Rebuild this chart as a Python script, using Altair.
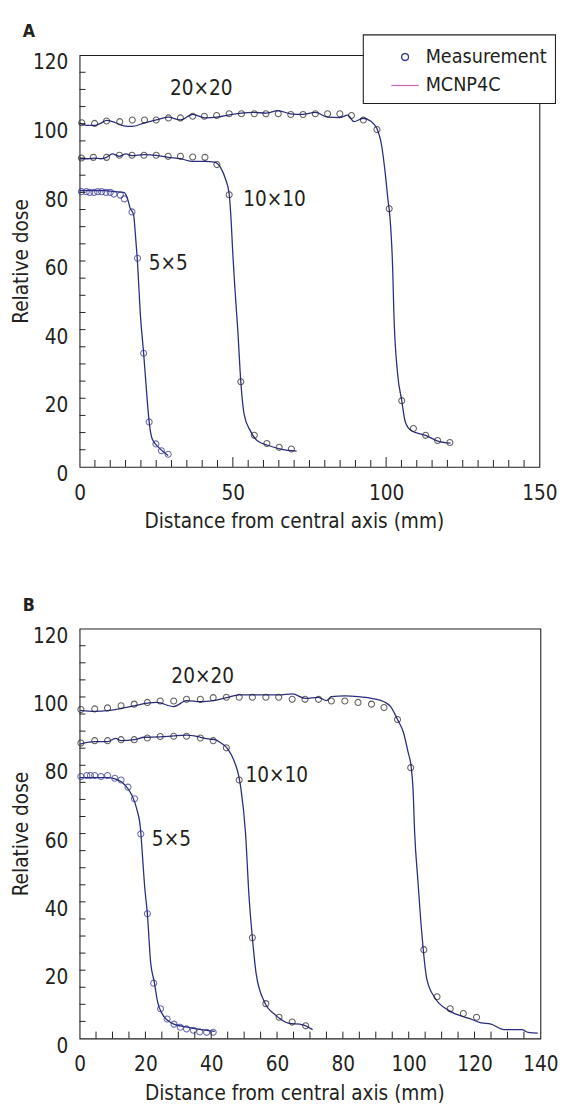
import altair as alt
import pandas as pd

# ---------------- data ----------------
FIELDS = ["5×5", "10×10", "20×20"]

# Panel A -- measurements
a5_mx = [0.6, 2.2, 3.3, 4.7, 5.9, 7.2, 8.6, 10.0, 11.2, 13.3, 14.6, 17.1, 18.9, 20.9, 22.7, 24.9, 26.7, 28.9]
a5_my = [80.2, 80.2, 80.0, 80.0, 80.2, 80.2, 80.0, 80.0, 79.5, 79.2, 78.1, 74.3, 60.8, 33.1, 13.1, 6.7, 4.7, 3.7]
a10_mx = [0.6, 4.5, 8.8, 13.0, 17.1, 21.0, 25.0, 28.9, 32.9, 36.9, 40.9, 44.8, 48.8, 52.6, 57.0, 61.1, 65.1, 69.1]
a10_my = [90.0, 90.2, 90.2, 90.8, 90.8, 90.8, 90.8, 90.5, 90.5, 90.3, 90.2, 88.1, 79.3, 24.8, 9.2, 6.8, 5.7, 5.2]
a20_mx = [0.7, 4.9, 8.8, 13.1, 17.2, 21.2, 25.0, 29.0, 32.9, 36.9, 40.7, 44.7, 48.8, 52.8, 57.0, 60.8,
          64.8, 68.9, 72.9, 76.9, 80.9, 84.9, 88.7, 92.6, 97.0, 101.0, 105.1, 108.9, 112.9, 116.8, 120.8]
a20_my = [100.3, 100.1, 100.8, 100.6, 101.1, 101.1, 101.1, 101.7, 101.7, 102.2, 102.2, 102.4, 102.9, 102.9,
          102.9, 102.9, 102.9, 102.7, 102.7, 102.9, 102.9, 102.9, 102.4, 101.1, 98.3, 75.2, 19.3, 11.2, 9.2, 7.7, 7.1]

# Panel A -- MCNP4C
a5_sx = [0, 8.2, 11.2, 14.4, 15.5, 16.5, 17.6, 18.3, 19.0, 19.8, 20.9, 22.1, 22.7, 23.7, 25.8, 28.9]
a5_sy = [80.5, 80.5, 80.2, 80.0, 78.6, 75.4, 73.5, 66.7, 58.0, 44.8, 33.1, 19.1, 13.1, 8.1, 5.7, 3.3]
a10_sx = [0, 2.8, 4.9, 7.0, 8.8, 10.7, 13.0, 15.1, 17.1, 21.0, 25.0, 28.9, 32.9, 36.9, 40.9, 44.0, 46.0,
          47.6, 48.8, 49.3, 50.0, 50.6, 51.6, 52.6, 53.7, 55.7, 58.0, 61.4, 66.0, 70.8]
a10_sy = [89.8, 89.8, 90.0, 89.8, 90.2, 91.2, 90.5, 91.2, 90.7, 91.0, 90.8, 90.2, 89.8, 89.0, 89.0, 88.8, 87.2,
          83.9, 79.6, 73.9, 62.0, 53.0, 40.0, 24.8, 15.2, 10.5, 7.6, 6.3, 5.1, 4.6]
a20_sx = [0, 2.8, 4.9, 7.0, 8.8, 11.2, 14.4, 17.1, 21.0, 25.0, 28.9, 32.9, 36.9, 40.9, 44.8, 48.8, 52.7, 56.8,
          60.8, 64.8, 68.7, 72.7, 76.9, 80.9, 84.8, 87.5, 89.5, 92.5, 94.9, 97.0, 98.6, 99.7, 100.7, 101.2,
          102.2, 102.5, 103.7, 105.1, 106.2, 108.0, 113.1, 116.6, 121.0]
a20_sy = [100.2, 99.5, 99.5, 100.2, 101.0, 100.5, 99.4, 99.2, 100.2, 101.1, 101.9, 101.1, 102.7, 101.7, 101.9,
          102.6, 103.1, 103.3, 103.1, 103.8, 102.9, 102.7, 103.3, 101.9, 101.8, 102.5, 100.6, 101.6, 100.8, 98.6,
          93.3, 85.7, 77.1, 73.3, 56.0, 45.7, 27.6, 19.3, 13.3, 10.7, 9.1, 7.6, 6.9]

# Panel B -- measurements
b5_mx = [0.4, 2.2, 3.3, 4.6, 6.5, 8.5, 10.7, 12.6, 14.7, 16.7, 18.6, 20.6, 22.5, 24.6, 26.6, 28.7, 30.6,
         32.5, 34.6, 36.5, 38.6, 40.6]
b5_my = [76.7, 77.0, 77.0, 77.0, 76.7, 77.0, 76.2, 75.7, 73.6, 70.2, 59.9, 36.5, 16.2, 8.7, 5.7, 4.2, 3.3,
         2.8, 2.4, 1.9, 1.8, 1.8]
b10_mx = [0.4, 4.6, 8.5, 12.6, 16.6, 20.6, 24.5, 28.6, 32.5, 36.7, 40.6, 44.6, 48.5, 52.5, 56.6, 60.6, 64.6, 68.7]
b10_my = [86.5, 87.2, 87.2, 87.5, 87.5, 88.0, 88.4, 88.5, 88.5, 88.0, 87.2, 85.1, 75.7, 29.5, 10.2, 6.2, 4.8, 3.7]
b20_mx = [0.4, 4.6, 8.5, 12.6, 16.6, 20.6, 24.5, 28.6, 32.5, 36.7, 40.6, 44.6, 48.5, 52.5, 56.6, 60.5,
          64.6, 68.5, 72.6, 76.5, 80.6, 84.6, 88.7, 92.5, 96.6, 100.6, 104.6, 108.6, 112.6, 116.6, 120.6]
b20_my = [96.3, 96.5, 96.8, 97.4, 97.9, 98.4, 98.8, 98.8, 99.3, 99.3, 99.8, 99.9, 99.9, 99.9, 99.9, 99.9,
          99.3, 99.3, 99.3, 98.8, 98.8, 98.4, 97.9, 96.9, 93.4, 79.3, 26.0, 12.2, 8.7, 7.3, 6.2]

# Panel B -- MCNP4C
b5_sx = [0, 8.5, 11.6, 13.7, 15.8, 17.4, 18.5, 19.0, 19.8, 20.6, 21.6, 22.7, 23.7, 25.3, 28.0, 32.7, 36.9, 41.1]
b5_sy = [76.4, 76.4, 75.7, 74.3, 71.4, 67.1, 61.4, 55.0, 44.2, 36.5, 22.2, 16.5, 10.7, 6.9, 4.5, 3.3, 2.6, 2.1]
b10_sx = [0.2, 4.6, 8.5, 10.9, 12.6, 16.6, 19.7, 24.5, 28.6, 32.5, 36.7, 39.1, 41.1, 43.0, 45.0, 46.9, 48.3,
          49.0, 50.4, 51.5, 52.5, 53.6, 56.2, 59.5, 63.4, 67.8, 70.8]
b10_sy = [86.2, 86.9, 86.9, 87.9, 87.2, 87.5, 88.2, 88.3, 88.6, 88.8, 88.2, 87.7, 87.5, 86.5, 84.8, 81.4, 77.1,
          73.3, 60.4, 41.3, 29.5, 19.3, 10.6, 6.9, 4.5, 4.0, 2.6]
b20_sx = [0.2, 4.6, 8.5, 11.9, 16.6, 20.6, 23.5, 28.6, 32.5, 36.7, 40.6, 44.6, 48.5, 52.5, 56.6, 60.5, 64.7,
          68.5, 72.6, 75.0, 76.5, 80.6, 84.6, 88.7, 92.5, 94.5, 96.6, 98.4, 99.8, 100.8, 101.3, 101.8, 102.8,
          103.9, 105.5, 108.1, 112.0, 118.3, 122.0, 125.0, 129.0, 134.3, 136.3, 139.2]
b20_sy = [96.1, 95.8, 96.0, 96.5, 97.4, 98.2, 98.4, 97.2, 98.9, 98.6, 98.9, 99.8, 100.6, 100.6, 100.6, 100.6,
          100.9, 99.6, 99.9, 98.9, 100.1, 100.3, 100.1, 99.6, 98.6, 97.2, 93.4, 89.6, 83.9, 79.1, 73.3, 60.4,
          46.1, 31.7, 17.4, 11.7, 8.3, 5.9, 4.6, 4.2, 2.6, 2.6, 1.8, 1.6]

# Field-size annotations
a_lab_text = ["20×20", "10×10", "5×5"]
a_lab_x = [39.7, 63.6, 28.9]
a_lab_y = [110.0, 77.6, 59.0]
b_lab_text = ["20×20", "10×10", "5×5"]
b_lab_x = [37.4, 59.9, 27.9]
b_lab_y = [105.8, 76.7, 58.0]

# Axis tick values
y_labels = [0, 20, 40, 60, 80, 100, 120]
y_minor = list(range(5, 120, 5))
a_x_labels = [0, 50, 100, 150]
a_x_minor = [v for v in range(5, 150, 5) if v % 50 != 0]
a_x_major = [50, 100]
b_x_labels = [0, 20, 40, 60, 80, 100, 120, 140]
b_x_minor = list(range(5, 140, 5))

LEGEND_KINDS = ["Measurement", "MCNP4C"]

# ---------------- styling ----------------
FONT = "Noto Sans Condensed, DejaVu Sans Condensed, sans-serif"
INK = "#231f20"
NAVY = "#2b2e7f"
CIRCLE_BLUE = "#2e3192"
PINK = "#c96bb8"
CIRCLE_PATH = "M-0.25,0A0.25,0.25 0 1,0 0.25,0A0.25,0.25 0 1,0 -0.25,0Z"
LINE_PATH = "M-1,0L1,0"
TICK_FS = 21
TITLE_FS = 21


def long_df(xs_list, ys_list):
    frames = []
    for f, xs, ys in zip(FIELDS, xs_list, ys_list):
        frames.append(pd.DataFrame({"x": xs, "y": ys, "field": f}))
    return pd.concat(frames, ignore_index=True)


def panel(letter, meas, sims, lab, xmax, xlabels, xminor, xmajor, width, height,
          stroke_range, leg_xy):
    xenc = alt.X("x:Q", scale=alt.Scale(domain=[0, xmax], nice=False, zero=False),
                 axis=alt.Axis(values=xlabels, ticks=False, tickSize=0, domain=False, grid=False,
                               labelFlush=False, labelPadding=16, labelFontSize=TICK_FS,
                               title="Distance from central axis (mm)", titleFontSize=TITLE_FS,
                               titlePadding=8, titleX=width / 2 - 16))
    yenc = alt.Y("y:Q", scale=alt.Scale(domain=[0, 120], nice=False, zero=False),
                 axis=alt.Axis(values=y_labels, ticks=False, tickSize=0, domain=False, grid=False,
                               labelPadding=12, labelFontSize=TICK_FS, labelOffset=8,
                               title="Relative dose", titleFontSize=TITLE_FS, titlePadding=1))

    mdf = long_df(*meas)
    sdf = long_df(*sims)
    ldf = pd.DataFrame({"x": lab[1], "y": lab[2], "label": lab[0]})

    lines = alt.Chart(sdf).mark_line(color=NAVY, strokeWidth=1.3, interpolate="monotone").encode(
        x=xenc, y=yenc, detail="field:N")
    points = alt.Chart(mdf).mark_point(shape="circle", filled=False, size=38, strokeWidth=1.1).encode(
        x=xenc, y=yenc,
        stroke=alt.Stroke("field:N", scale=alt.Scale(domain=FIELDS, range=stroke_range), legend=None))
    labels = alt.Chart(ldf).mark_text(font=FONT, fontSize=21, color=INK, align="center",
                                      baseline="middle").encode(x=xenc, y=yenc, text="label:N")
    yticks = alt.Chart(pd.DataFrame({"y": y_minor})).mark_rule(color=INK, strokeWidth=1).encode(
        y=yenc, x=alt.value(0), x2=alt.value(6))
    xticks = alt.Chart(pd.DataFrame({"x": xminor})).mark_rule(color=INK, strokeWidth=1).encode(
        x=xenc, y=alt.value(height), y2=alt.value(height - 7))
    letter_mark = alt.Chart(pd.DataFrame({"t": [letter]})).mark_text(
        font=FONT, fontSize=18, fontWeight="bold", color=INK, align="left", baseline="alphabetic").encode(
        text="t:N", x=alt.value(-58), y=alt.value(-18))
    layers = [lines, points, labels, yticks, xticks, letter_mark]
    if xmajor:
        xmaj = alt.Chart(pd.DataFrame({"x": xmajor})).mark_rule(color=INK, strokeWidth=1).encode(
            x=xenc, y=alt.value(height), y2=alt.value(height - 10))
        layers.append(xmaj)

    leg = dict(orient="none", legendX=leg_xy[0], legendY=leg_xy[1], title=None)
    legend_layer = alt.Chart(pd.DataFrame({"kind": LEGEND_KINDS})).mark_point(
        opacity=0, size=784, filled=False).encode(
        x=alt.value(0), y=alt.value(0),
        color=alt.Color("kind:N", scale=alt.Scale(domain=LEGEND_KINDS, range=[CIRCLE_BLUE, PINK]),
                        legend=alt.Legend(**leg)),
        shape=alt.Shape("kind:N", scale=alt.Scale(domain=LEGEND_KINDS, range=[CIRCLE_PATH, LINE_PATH]),
                        legend=alt.Legend(**leg)))
    layers.append(legend_layer)

    return alt.layer(*layers).properties(width=width, height=height)


panel_a = panel("A",
                ([a5_mx, a10_mx, a20_mx], [a5_my, a10_my, a20_my]),
                ([a5_sx, a10_sx, a20_sx], [a5_sy, a10_sy, a20_sy]),
                (a_lab_text, a_lab_x, a_lab_y),
                150, a_x_labels, a_x_minor, a_x_major, 469, 420,
                [CIRCLE_BLUE, INK, INK], (289, -21))
panel_b = panel("B",
                ([b5_mx, b10_mx, b20_mx], [b5_my, b10_my, b20_my]),
                ([b5_sx, b10_sx, b20_sx], [b5_sy, b10_sy, b20_sy]),
                (b_lab_text, b_lab_x, b_lab_y),
                140, b_x_labels, b_x_minor, [], 470, 418,
                [INK, INK, INK], (290, -24))

chart = alt.vconcat(panel_a, panel_b, spacing=65).properties(
    padding={"left": 2, "top": 4, "right": 0, "bottom": 0},
    background="white",
).configure_view(
    stroke=INK, strokeWidth=1.1
).configure_axis(
    labelFont=FONT, titleFont=FONT, labelColor=INK, titleColor=INK, titleFontWeight="normal"
).configure_legend(
    fillColor="white", strokeColor=INK, strokeWidth=1.1, padding=8, symbolOffset=20,
    labelFont=FONT, labelFontSize=20, labelColor=INK, labelOffset=6, symbolSize=784,
    symbolOpacity=1, symbolStrokeWidth=1.3, rowPadding=4
)

chart.save("out.html", embed_options={"renderer": "svg", "actions": False})
